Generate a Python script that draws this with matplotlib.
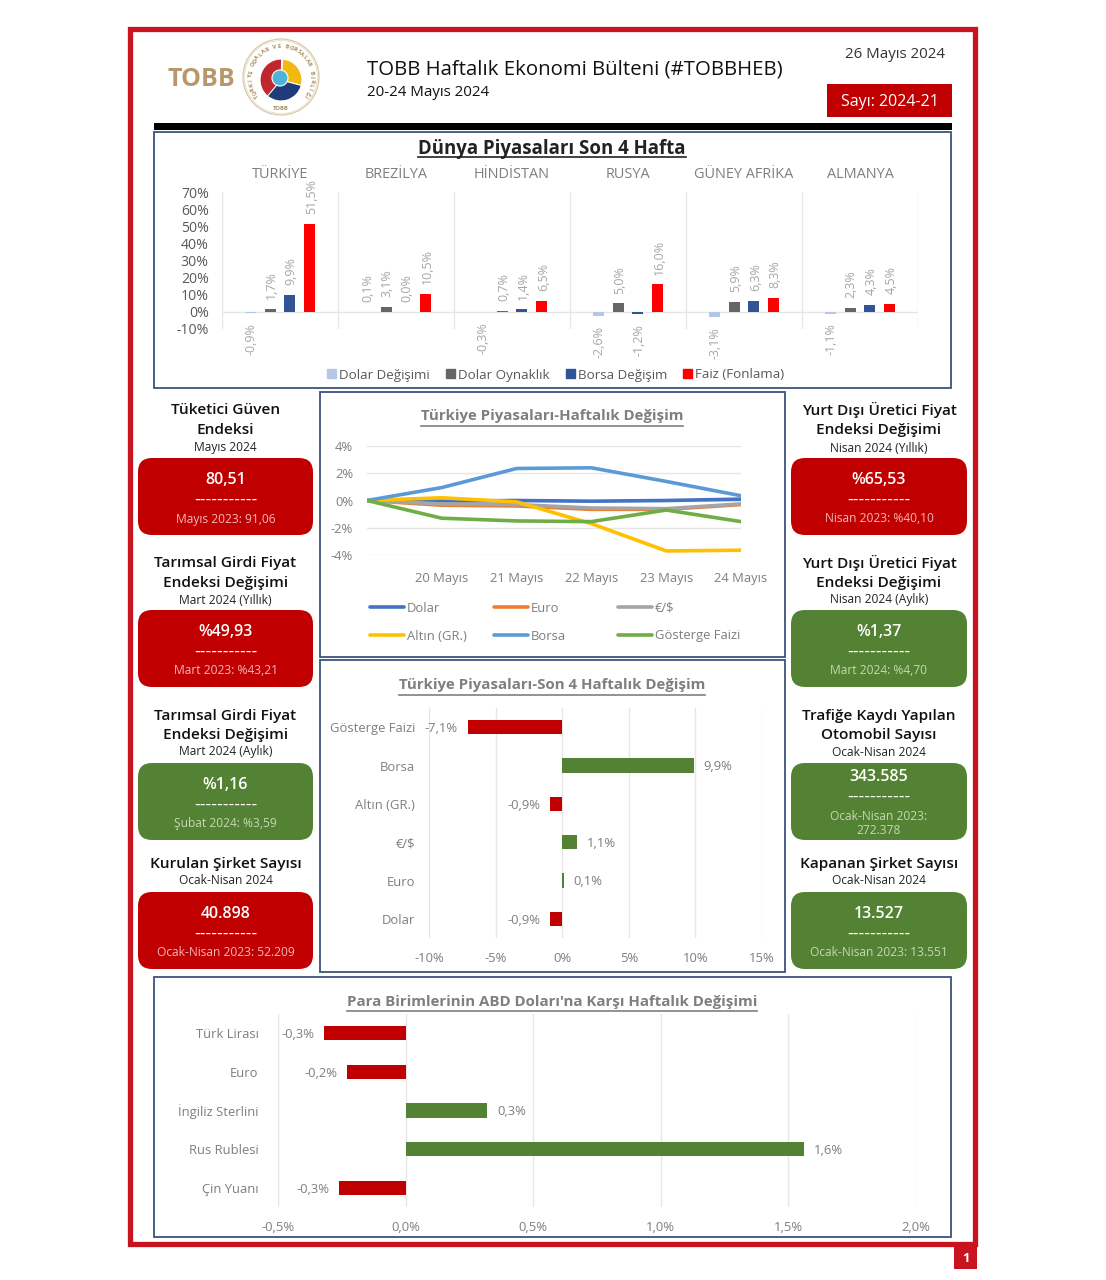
import matplotlib
matplotlib.use("Agg")
import matplotlib.pyplot as plt
from matplotlib.patches import Rectangle, FancyBboxPatch, Circle, Wedge, Patch
import numpy as np

W, H = 1106, 1280

# top chart
countries = ["TÜRKİYE", "BREZİLYA", "HİNDİSTAN", "RUSYA", "GÜNEY AFRİKA", "ALMANYA"]
dolar_degisim = [-0.9, 0.1, -0.3, -2.6, -3.1, -1.1]
dolar_oynak = [1.7, 3.1, 0.7, 5.0, 5.9, 2.3]
borsa_degisim = [9.9, 0.0, 1.4, -1.2, 6.3, 4.3]
faiz_fonlama = [51.5, 10.5, 6.5, 16.0, 8.3, 4.5]
world_names = ["Dolar Değişimi", "Dolar Oynaklık", "Borsa Değişim", "Faiz (Fonlama)"]

# weekly lines
days = ["", "20 Mayıs", "21 Mayıs", "22 Mayıs", "23 Mayıs", "24 Mayıs"]
dolar = [0, -0.05, 0.0, -0.05, 0.0, 0.1]
euro = [0, -0.35, -0.4, -0.65, -0.65, -0.3]
eur_usd = [0, -0.25, -0.3, -0.55, -0.6, -0.25]
altin = [0, 0.2, -0.1, -1.7, -3.7, -3.65]
borsa = [0, 0.95, 2.35, 2.4, 1.4, 0.35]
gosterge = [0, -1.3, -1.5, -1.55, -0.7, -1.55]

# 4 week bars
markets = ["Gösterge Faizi", "Borsa", "Altın (GR.)", "€/$", "Euro", "Dolar"]
market_change = [-7.1, 9.9, -0.9, 1.1, 0.1, -0.9]

# currencies
currencies = ["Türk Lirası", "Euro", "İngiliz Sterlini", "Rus Rublesi", "Çin Yuanı"]
currency_change = [-0.32, -0.23, 0.32, 1.56, -0.26]

# cards
left_heads = [["Tüketici Güven", "Endeksi"], ["Tarımsal Girdi Fiyat", "Endeksi Değişimi"],
              ["Tarımsal Girdi Fiyat", "Endeksi Değişimi"], ["Kurulan Şirket Sayısı"]]
left_subs = ["Mayıs 2024", "Mart 2024 (Yıllık)", "Mart 2024 (Aylık)", "Ocak-Nisan 2024"]
left_values = ["80,51", "%49,93", "%1,16", "40.898"]
left_notes = ["Mayıs 2023: 91,06", "Mart 2023: %43,21", "Şubat 2024: %3,59", "Ocak-Nisan 2023: 52.209"]
left_good = [False, False, True, False]

right_heads = [["Yurt Dışı Üretici Fiyat", "Endeksi Değişimi"], ["Yurt Dışı Üretici Fiyat", "Endeksi Değişimi"],
               ["Trafiğe Kaydı Yapılan", "Otomobil Sayısı"], ["Kapanan Şirket Sayısı"]]
right_subs = ["Nisan 2024 (Yıllık)", "Nisan 2024 (Aylık)", "Ocak-Nisan 2024", "Ocak-Nisan 2024"]
right_values = ["%65,53", "%1,37", "343.585", "13.527"]
right_notes = ["Nisan 2023: %40,10", "Mart 2024: %4,70", "Ocak-Nisan 2023:\n272.378", "Ocak-Nisan 2023: 13.551"]
right_good = [False, True, True, True]

RED = "#C00000"
FRAME = "#C8141E"
GREEN = "#548235"
NAVY = "#3B5378"
GRAY = "#7F7F7F"
GRID = "#E6E6E6"
px = 0.72  # font pt for one pixel at dpi 100

plt.rcParams["font.family"] = ["Open Sans", "DejaVu Sans"]

fig = plt.figure(figsize=(W / 100, H / 100), dpi=100, facecolor="white")
bg = fig.add_axes([0, 0, 1, 1])
bg.set_xlim(0, W)
bg.set_ylim(H, 0)
bg.axis("off")


def axes_px(left, right, top, bottom):
    ax = fig.add_axes([left / W, 1 - bottom / H, (right - left) / W, (bottom - top) / H])
    ax.set_facecolor("none")
    for s in ax.spines.values():
        s.set_visible(False)
    ax.tick_params(length=0, colors=GRAY, labelsize=13 * px)
    return ax


def box(x0, x1, y0, y1, color=NAVY, lw=1.3, fill="none"):
    bg.add_patch(Rectangle((x0, y0), x1 - x0, y1 - y0, ec=color, fc=fill, lw=lw))


def comma(v):
    return f"{v:.1f}%".replace(".", ",")


def underlined(x, y, s, size, color, weight="bold", gap=10):
    t = bg.text(x, y, s, ha="center", va="center", fontsize=size * px, color=color, fontweight=weight)
    e = t.get_window_extent(fig.canvas.get_renderer())
    bg.plot([e.x0, e.x1], [y + gap, y + gap], color=color, lw=1.2)


# page frame
box(130, 975, 29, 1244, color=FRAME, lw=3.8)
bg.add_patch(Rectangle((954, 1245), 23, 24, fc=FRAME, ec="none"))
bg.text(965.5, 1259, "1", color="white", ha="center", va="center", fontsize=13 * px, fontweight="bold")
bg.add_patch(Rectangle((154, 123), 798, 7, fc="black", ec="none"))

# header
bg.text(201, 80, "TOBB", color="#B8986A", ha="center", va="center", fontsize=25 * px, fontweight="bold")
bg.add_patch(Circle((281, 77), 38, fc="white", ec="#D8C8A8", lw=0.9))
bg.add_patch(Circle((281, 77), 36.5, fc="white", ec="#E4D8C0", lw=0.5))
ring = "TÜRKİYE ODALAR VE BORSALAR BİRLİĞİ"
for a, ch in zip(np.linspace(-128, 128, len(ring)), ring):
    r = np.deg2rad(a)
    bg.text(281 + 30.5 * np.sin(r), 77 - 30.5 * np.cos(r), ch, rotation=-a, fontsize=4.2, color="#A89060",
            ha="center", va="center", rotation_mode="anchor", fontweight="bold")
bg.text(281, 109, "TOBB", fontsize=4.2, color="#A89060", ha="center", va="center", fontweight="bold")
bg.add_patch(Wedge((281, 80), 21, 110, 272, fc="#C0272D", ec="white", lw=0.8))
bg.add_patch(Wedge((281, 80), 21, 275, 15, fc="#F2B90F", ec="white", lw=0.8))
bg.add_patch(Wedge((281, 80), 21, 15, 130, fc="#1F3B7A", ec="white", lw=0.8))
bg.add_patch(Circle((280, 78), 8, fc="#4FB3D9", ec="white", lw=0.8))

bg.text(367, 70, "TOBB Haftalık Ekonomi Bülteni (#TOBBHEB)", fontsize=20.4 * px, color="#111111", va="center")
bg.text(367, 93, "20-24 Mayıs 2024", fontsize=15 * px, color="#111111", va="center")
bg.text(895, 55, "26 Mayıs 2024", fontsize=15 * px, color="#333333", ha="center", va="center")
bg.add_patch(Rectangle((827, 84), 125, 33, fc=RED, ec="none"))
bg.text(890, 102, "Sayı: 2024-21", fontsize=16 * px, color="white", ha="center", va="center", fontweight="medium")

# panel boxes
box(154, 951, 132, 388)
box(320, 785, 392, 657)
box(320, 785, 660, 972)
box(154, 951, 977, 1237)

# top chart
underlined(552, 149, "Dünya Piyasaları Son 4 Hafta", 18.6, "#222222", gap=8)
ax1 = axes_px(222, 918, 192, 329)
x = np.arange(len(countries)) + 0.5
series = [dolar_degisim, dolar_oynak, borsa_degisim, faiz_fonlama]
world_colors = ["#B4C7E7", "#666666", "#2F5597", "#FF0000"]
for i, vals in enumerate(series):
    pos = x + (i - 1.5) * 0.172
    ax1.bar(pos, vals, width=0.095, color=world_colors[i], zorder=3)
    for p, v in zip(pos, vals):
        ax1.annotate(comma(v), (p, v), xytext=(1, 7 if v >= 0 else -7), textcoords="offset points", rotation=90,
                     ha="center", va="bottom" if v >= 0 else "top", fontsize=12.5 * px, color="#A6A6A6")
ax1.set_xlim(0, 6)
ax1.set_ylim(-10, 70)
ax1.set_yticks(range(-10, 71, 10))
ax1.set_yticklabels([f"{v}%" for v in range(-10, 71, 10)], fontsize=14 * px, color="#595959")
ax1.tick_params(axis="y", pad=9.5)
ax1.set_xticks(range(7))
ax1.set_xticklabels([])
ax1.grid(axis="x", color=GRID, lw=1)
ax1.axhline(0, color=GRID, lw=1)
ax1.set_axisbelow(True)
for c, name in zip(x, countries):
    ax1.annotate(name, (c, 70), xytext=(0, 7.5), textcoords="offset points", ha="center", va="bottom",
                 fontsize=14.5 * px, color=GRAY)
ax1.legend(handles=[Patch(color=c, label=n) for c, n in zip(world_colors, world_names)], ncol=4, frameon=False,
           loc="center", bbox_to_anchor=(556 / W, 1 - 375 / H), bbox_transform=fig.transFigure, handlelength=0.65,
           handleheight=0.65, handletextpad=0.25, columnspacing=1.2, labelcolor="#595959", fontsize=13.4 * px)

# weekly line chart
underlined(552, 416, "Türkiye Piyasaları-Haftalık Değişim", 15, GRAY, gap=10)
ax2 = axes_px(367, 741, 446, 555)
line_vals = [dolar, euro, eur_usd, altin, borsa, gosterge]
line_names = ["Dolar", "Euro", "€/$", "Altın (GR.)", "Borsa", "Gösterge Faizi"]
line_colors = ["#4472C4", "#ED7D31", "#A5A5A5", "#FFC000", "#5B9BD5", "#70AD47"]
for vals, name, c in zip(line_vals, line_names, line_colors):
    ax2.plot(range(len(days)), vals, color=c, lw=2.6, label=name, solid_capstyle="round")
ax2.set_xlim(0, 5)
ax2.set_ylim(-4, 4)
ax2.set_yticks([-4, -2, 0, 2, 4])
ax2.set_yticklabels([f"{v}%" for v in [-4, -2, 0, 2, 4]])
ax2.set_xticks(range(len(days)))
ax2.set_xticklabels(days)
ax2.tick_params(axis="x", pad=12)
ax2.tick_params(axis="y", pad=10)
ax2.grid(axis="y", color=GRID, lw=1)
ax2.set_axisbelow(True)
# legend keys sit on a fixed 3 x 2 grid in the original
legend_x = [370, 494, 618]
legend_y = [607, 635]
for i, (name, c) in enumerate(zip(line_names, line_colors)):
    lx = legend_x[i % 3]
    ly = legend_y[i // 3]
    bg.plot([lx, lx + 34], [ly, ly], color=c, lw=2.6, solid_capstyle="round")
    bg.text(lx + 37, ly + 1, name, color=GRAY, fontsize=13 * px, va="center")

# 4 week bars
underlined(552, 685, "Türkiye Piyasaları-Son 4 Haftalık Değişim", 15, GRAY, gap=10)
ax3 = axes_px(429, 762, 708, 938)
y3 = np.arange(len(markets))
ax3.barh(y3, market_change, height=0.37, color=[RED if v < 0 else GREEN for v in market_change], zorder=3)
for yy, v in zip(y3, market_change):
    ax3.annotate(comma(v), (v, yy), xytext=(7 if v > 0 else -7, -1), textcoords="offset points",
                 ha="left" if v > 0 else "right", va="center", fontsize=13 * px, color=GRAY)
ax3.set_xlim(-10, 15)
ax3.set_ylim(len(markets) - 0.5, -0.5)
ax3.set_xticks(range(-10, 16, 5))
ax3.set_xticklabels([f"{v}%" for v in range(-10, 16, 5)])
ax3.set_yticks(y3)
ax3.set_yticklabels(markets)
ax3.tick_params(axis="x", pad=10)
ax3.tick_params(axis="y", pad=10)
ax3.grid(axis="x", color=GRID, lw=1)
ax3.set_axisbelow(True)

# currencies
underlined(552, 1002, "Para Birimlerinin ABD Doları'na Karşı Haftalık Değişimi", 15, GRAY, gap=9)
ax4 = axes_px(278, 916, 1014, 1207)
y4 = np.arange(len(currencies))
ax4.barh(y4, currency_change, height=0.37, color=[RED if v < 0 else GREEN for v in currency_change], zorder=3)
for yy, v in zip(y4, currency_change):
    ax4.annotate(comma(v), (v, yy), xytext=(7 if v > 0 else -7, -1), textcoords="offset points",
                 ha="left" if v > 0 else "right", va="center", fontsize=13 * px, color=GRAY)
ax4.set_xlim(-0.5, 2.0)
ax4.set_ylim(len(currencies) - 0.5, -0.5)
ticks4 = [-0.5, 0, 0.5, 1.0, 1.5, 2.0]
ax4.set_xticks(ticks4)
ax4.set_xticklabels([comma(v) for v in ticks4])
ax4.set_yticks(y4)
ax4.set_yticklabels(currencies)
ax4.tick_params(axis="x", pad=10)
ax4.tick_params(axis="y", pad=14)
ax4.grid(axis="x", color=GRID, lw=1)
ax4.set_axisbelow(True)

# cards
card_tops = [458, 610, 763, 892]
head_tops = [[410, 430, 448], [563, 583, 600], [716, 735, 752], [864, 881]]


def draw_cards(x0, x1, heads, subs, values, notes, good):
    cx = (x0 + x1) / 2
    for i, top in enumerate(card_tops):
        ys = head_tops[i]
        for line, yy in zip(heads[i], ys):
            bg.text(cx, yy, line, ha="center", va="center", fontsize=15.4 * px, fontweight="semibold", color="#111111")
        bg.text(cx, ys[-1], subs[i], ha="center", va="center", fontsize=12 * px, color="#222222")
        col = GREEN if good[i] else RED
        soft = "#C5D8B0" if good[i] else "#F2B8B8"
        bg.add_patch(FancyBboxPatch((x0 + 14, top + 14), x1 - x0 - 28, 77 - 28, boxstyle="round,pad=14,rounding_size=14",
                                    fc=col, ec="none"))
        two = "\n" in notes[i]
        shift = -8 if two else 0
        bg.text(cx, top + 22 + shift, values[i], ha="center", va="center", fontsize=16 * px, fontweight="semibold", color="white")
        bg.text(cx, top + 41 + shift, "-----------", ha="center", va="center", fontsize=16 * px, color="white",
                family="DejaVu Sans")
        bg.text(cx, top + (60 if two else 61), notes[i], ha="center", va="center", fontsize=12 * px, color=soft,
                linespacing=1.1)


draw_cards(138, 313, left_heads, left_subs, left_values, left_notes, left_good)
draw_cards(791, 967, right_heads, right_subs, right_values, right_notes, right_good)

fig.savefig("out.png", dpi=100, facecolor="white")
